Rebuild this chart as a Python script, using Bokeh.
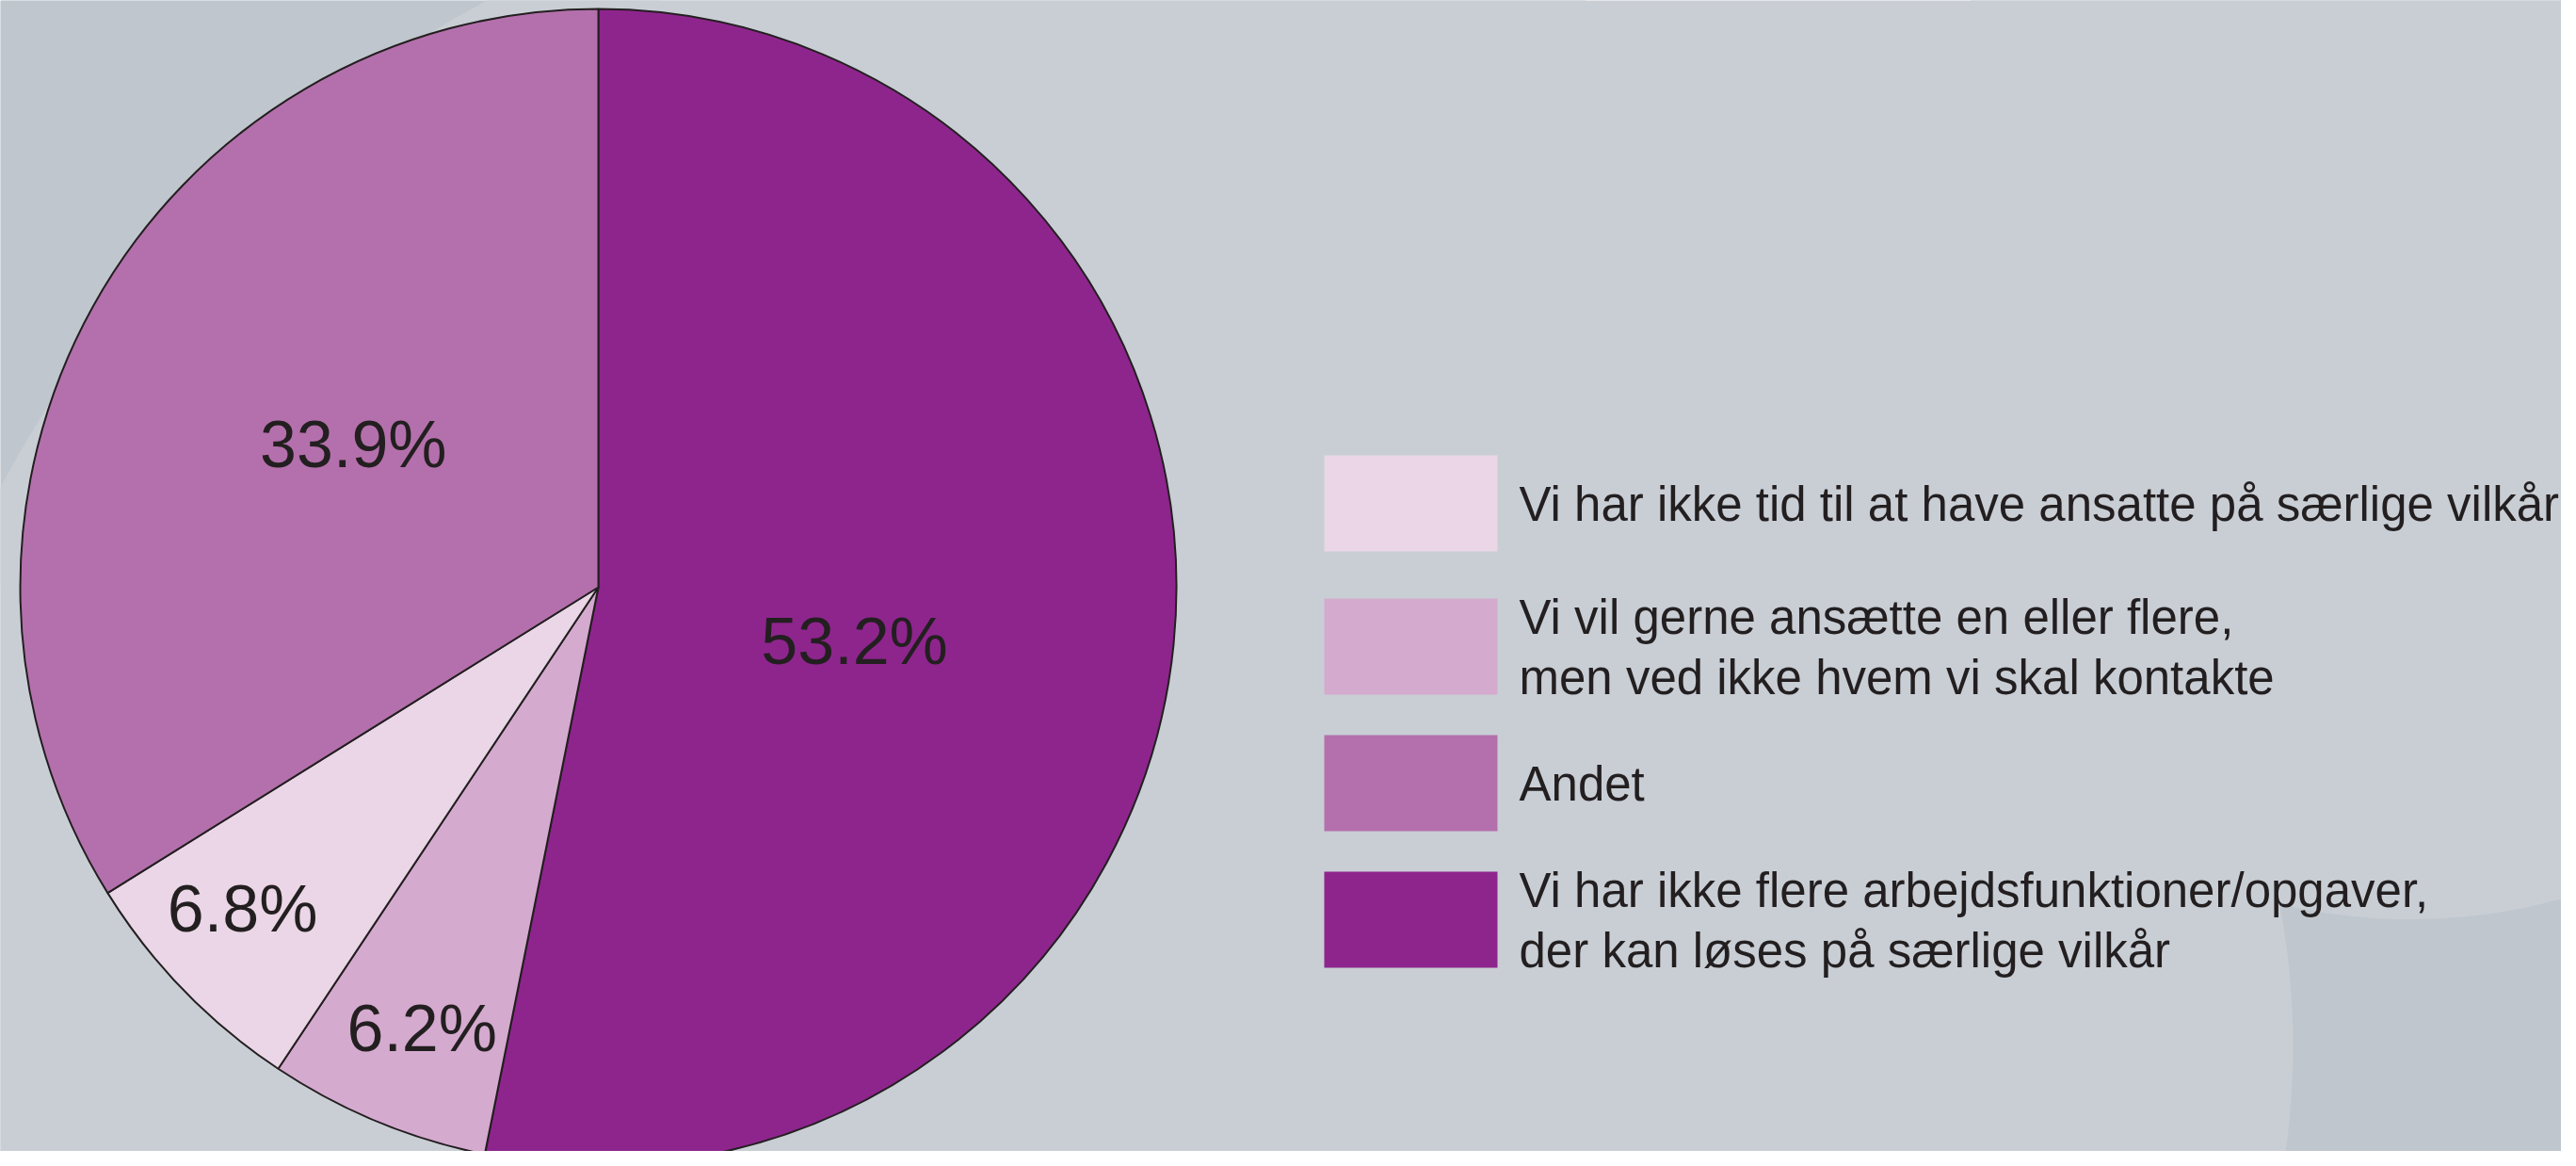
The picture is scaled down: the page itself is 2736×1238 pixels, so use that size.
import numpy as np
from bokeh.plotting import figure
from bokeh.models import Range1d, ColumnDataSource
from bokeh.core.properties import value
from bokeh.embed import file_html
from bokeh.resources import INLINE

# ---------------- data ----------------
categories = [
    "Vi har ikke tid til at have ansatte på særlige vilkår",
    "Vi vil gerne ansætte en eller flere,\nmen ved ikke hvem vi skal kontakte",
    "Andet",
    "Vi har ikke flere arbejdsfunktioner/opgaver,\nder kan løses på særlige vilkår",
]
shares = [6.8, 6.2, 33.9, 53.2]
pct_labels = ["6.8%", "6.2%", "33.9%", "53.2%"]
# order of slices clockwise from 12 o'clock
pie_order = [3, 1, 0, 2]

# ---------------- style ----------------
colors = ["#ead6e7", "#d5aacf", "#b470ac", "#8e258d"]
BG = "#c9ced5"
BG_DARK = "#bfc6cd"
INK = "#231f20"
FONT = "Liberation Sans"

W, H = 2720, 1222
PAGE_H = 1238

def Y(page_y):
    return PAGE_H - page_y

p = figure(width=W, height=H, output_backend="svg", toolbar_location=None,
           x_range=Range1d(0, W), y_range=Range1d(PAGE_H - H, PAGE_H),
           min_border=0, background_fill_color=BG, border_fill_color=BG,
           outline_line_color=None)
p.axis.visible = False
p.grid.visible = False

# ---- background decoration ----
p.quad(left=[0, 2380], right=[700, 2740], top=[Y(0), Y(900)], bottom=[Y(620), Y(1240)],
       fill_color=BG_DARK, line_color=None)
p.circle(x=[1100, 1635, 2560], y=[Y(1100), Y(1110), Y(376)], radius=[1245, 800, 600],
         fill_color=BG, line_color=None)

# ---- pie ----
cx, cy, R = 635, Y(623), 614
total = sum(shares)
vals = [shares[i] for i in pie_order]
cum = np.concatenate([[0], np.cumsum(vals)])
start = np.radians(90 - 360 * cum[:-1] / total)
end = np.radians(90 - 360 * cum[1:] / total)
src = ColumnDataSource(dict(start=start, end=end, color=[colors[i] for i in pie_order]))
p.wedge(x=cx, y=cy, radius=R, start_angle="start", end_angle="end",
        direction="clock", fill_color="color", line_color=INK, line_width=2, source=src)

# ---- percentage labels ----
label_r = [0.453, 0.822, 0.83, 0.49]      # fraction of radius, per pie slice
label_shift = [6.3, -0.7, 2.0, 1.1]       # degrees clockwise, per pie slice
mid = 360 * (cum[:-1] + cum[1:]) / 2 / total + np.array(label_shift)
lx = cx + np.array(label_r) * R * np.sin(np.radians(mid))
ly = cy + np.array(label_r) * R * np.cos(np.radians(mid))
p.text(x=lx, y=ly, text=[pct_labels[i] for i in pie_order], text_align="center",
       text_baseline="middle", text_font=value(FONT), text_font_size="70px",
       text_color=INK)

# ---- legend ----
box_left, box_w, box_h = 1406, 184, 102
box_tops = [483, 635, 780, 925]
tops = np.array([Y(t) for t in box_tops])
p.quad(left=box_left, right=box_left + box_w, top=tops, bottom=tops - box_h,
       fill_color=colors, line_color=None)
p.text(x=1613, y=tops - box_h / 2 - 1, text=categories, text_align="left",
       text_baseline="middle", text_font=value(FONT), text_font_size="51px",
       text_color=INK, text_line_height=1.13)

open("out.html", "w").write(file_html(p, INLINE))
